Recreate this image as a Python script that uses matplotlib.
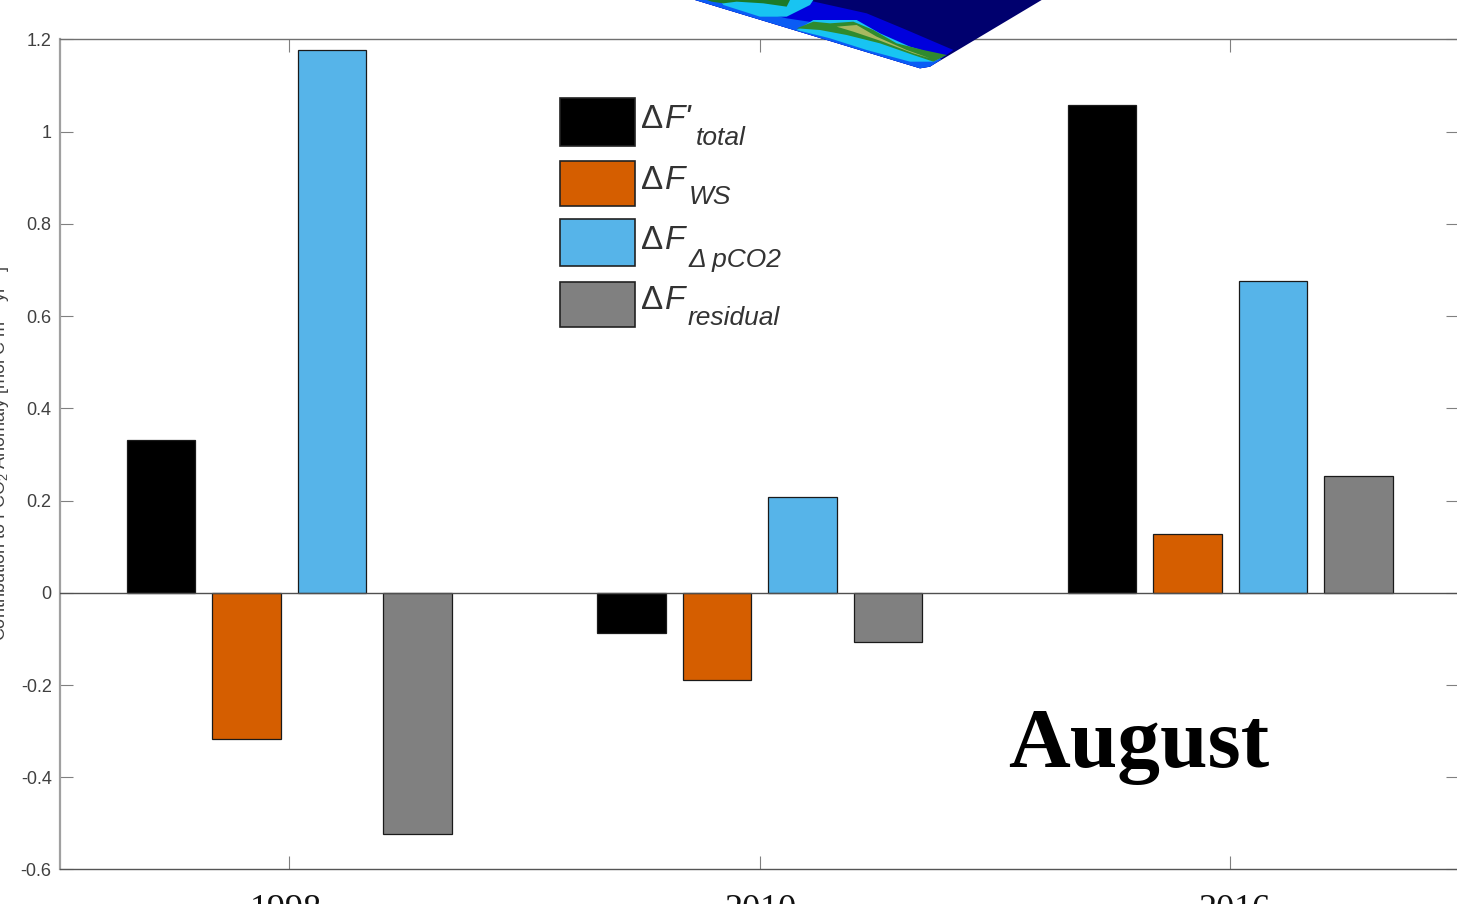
import matplotlib
matplotlib.use('Agg')
import matplotlib.pyplot as plt
import numpy as np
from matplotlib.patches import Polygon, Rectangle
from matplotlib.transforms import Affine2D

W, H = 1457, 904

years = ['1998', '2010', '2016']
total = [0.331, -0.087, 1.057]
ws = [-0.318, -0.188, 0.128]
pco2 = [1.177, 0.208, 0.677]
residual = [-0.524, -0.106, 0.254]

series = [total, ws, pco2, residual]
colors = ['#000000', '#d55e00', '#56b4e9', '#808080']
sub_labels = ['total', 'WS', '\u0394 pCO2', 'residual']
main_labels = ["F'", 'F', 'F', 'F']

plt.rcParams['font.family'] = ['Liberation Sans', 'DejaVu Sans']
plt.rcParams['mathtext.fontset'] = 'custom'
plt.rcParams['mathtext.rm'] = 'Liberation Sans'

# the +0.01 stops 9.04*100 rounding down to 903 px
fig = plt.figure(figsize=((W + 0.01) / 100, (H + 0.01) / 100), dpi=100)
# pixel coords, y down, for the pasted-on bits
px = Affine2D().scale(1, -1).translate(0, H)

left, right, top, bottom = 60, 1459, 39.5, 869.5
ax = fig.add_axes([left / W, 1 - bottom / H, (right - left) / W, (bottom - top) / H])

# group 1 sits at 289 px, group spacing 470.5 px
unit = 470.5
ax.set_xlim(1 - (289 - left) / unit, 1 + (right - 289) / unit)
ax.set_ylim(-0.6, 1.2)

x = np.arange(1, len(years) + 1)
bar_w = 68.5 / unit
step = 85.5 / unit
for i, vals in enumerate(series):
    ax.bar(x + (i - 1.5) * step, vals, bar_w, color=colors[i], edgecolor='#1a1a1a', linewidth=0.9, zorder=2)

ax.axhline(0, color='#505050', linewidth=1.0, zorder=3)

ax.set_xticks(x)
ax.set_xticklabels([])
ax.set_yticks(np.arange(-0.6, 1.21, 0.2))
ax.set_yticklabels(['-0.6', '-0.4', '-0.2', '0', '0.2', '0.4', '0.6', '0.8', '1', '1.2'])
ax.tick_params(axis='both', direction='in', length=9.4, width=0.8, color='#808080',
               top=True, right=True, labelsize=13, labelcolor='#404040', pad=6)
for name, spine in ax.spines.items():
    spine.set_color('#707070')
    spine.set_linewidth(1.0)
ax.spines['left'].set_color('#a0a0a0')
ax.spines['left'].set_linewidth(1.6)
ax.spines['bottom'].set_color('#555555')

# year labels are serif and run off the bottom of the picture
for name, xp in zip(years, [286, 760, 1234]):
    fig.text(xp, 919, name, transform=px, ha='center', va='baseline',
             family='Liberation Serif', fontsize=26, color='#111111')

fig.text(0, 453, 'Contribution to FCO$_2$ Anomaly [mol C m$^{-2}$ yr$^{-1}$]', transform=px,
         rotation=90, ha='center', va='center', fontsize=13, color='#404040')

fig.text(1008, 767, 'August', transform=px, ha='left', va='baseline',
         family='Liberation Serif', fontweight='bold', fontsize=61.5, color='black')

# legend
swatch_y = [(98, 146), (161, 206), (219, 266), (282, 327)]
main_base = [128, 189, 249, 309]
sub_base = [145, 204, 267, 325]
sub_x = [696, 689, 689, 688]
for i, (y0, y1) in enumerate(swatch_y):
    fig.add_artist(Rectangle((560, y0), 75, y1 - y0, transform=px, facecolor=colors[i],
                             edgecolor='#222222', linewidth=1.2, zorder=5))
    fig.text(641, main_base[i], '\u0394', transform=px, va='baseline', ha='left',
             fontsize=24, color='#333333', zorder=5)
    fig.text(665, main_base[i], main_labels[i], transform=px, va='baseline', ha='left',
             fontsize=24, style='italic', color='#333333', zorder=5)
    fig.text(sub_x[i], sub_base[i], sub_labels[i], transform=px, va='baseline', ha='left',
             fontsize=19, style='italic', color='#333333', zorder=5)


# map inset poking in from the top of the page, traced on a 3x crop starting at x=680
def crop(points):
    return [(680 + a / 3, b / 3) for a, b in points]


map_layers = [
    ('#00006e', [(45, 0), (720, 205), (750, 200), (1085, 0)]),
    ('#0000dc', [(380, 0), (560, 40), (680, 90), (820, 150), (750, 200), (720, 205), (45, 0)]),
    ('#0a5cf5', [(45, 0), (720, 205), (750, 200), (785, 178), (600, 115), (420, 70), (320, 55), (200, 25), (130, 0)]),
    ('#18c4f2', [(130, 15), (240, 50), (320, 50), (390, 15), (400, 0), (120, 0)]),
    ('#18c4f2', [(350, 90), (400, 60), (530, 60), (600, 100), (690, 140), (790, 170), (760, 185), (690, 185), (560, 150), (450, 115)]),
    ('#1c7a28', [(95, 5), (130, 10), (170, 5), (250, 10), (320, 20), (330, 0), (80, 0)]),
    ('#2f8a2e', [(350, 85), (400, 65), (450, 70), (520, 65), (580, 90), (650, 130), (730, 150), (800, 165), (760, 185), (700, 165), (600, 130), (500, 105), (420, 90)]),
    ('#a8b860', [(470, 80), (530, 75), (590, 110), (680, 150), (750, 175), (700, 160), (600, 122), (520, 95)]),
]
for c, pts in map_layers:
    fig.add_artist(Polygon(crop(pts), closed=True, transform=px, facecolor=c, edgecolor='none', zorder=6))

fig.savefig('out.png', dpi=100, facecolor='white')
